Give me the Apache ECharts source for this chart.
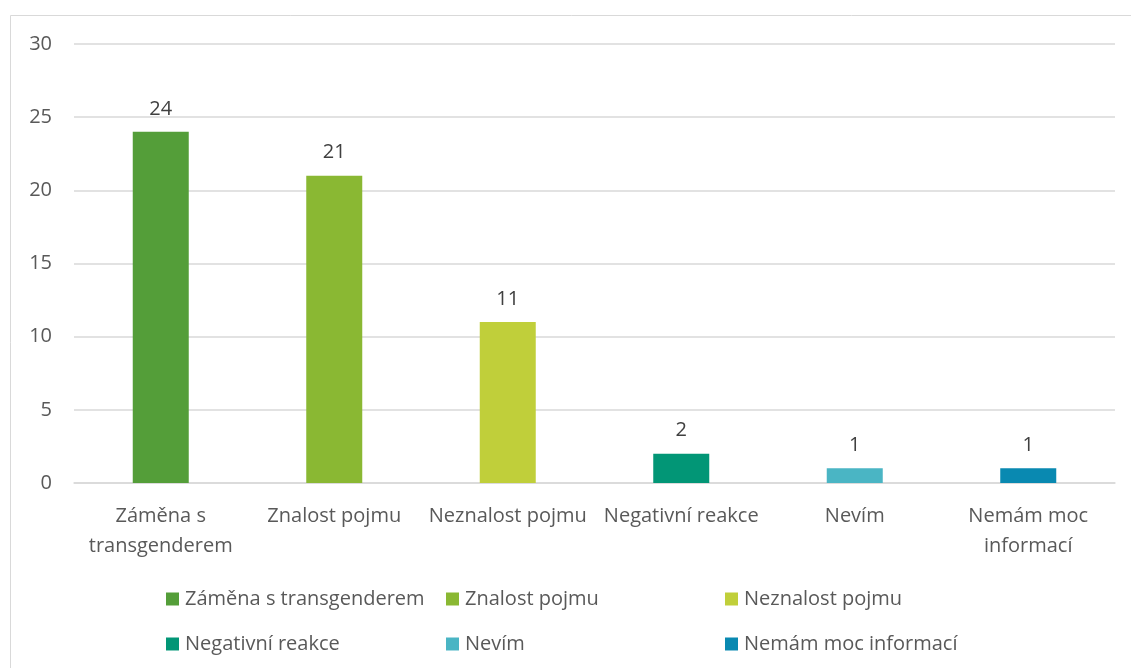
<!DOCTYPE html>
<html>
<head>
<meta charset="utf-8">
<script src="https://cdn.jsdelivr.net/npm/echarts@6/dist/echarts.min.js"></script>
<style>
  html, body { margin: 0; padding: 0; background: #fff; }
  #chart { width: 1131px; height: 668px; }
</style>
</head>
<body>
<div id="chart"></div>
<script>
// data
const categories = ["Záměna s transgenderem", "Znalost pojmu", "Neznalost pojmu", "Negativní reakce", "Nevím", "Nemám moc informací"];
const axisLabels = ["Záměna s\ntransgenderem", "Znalost pojmu", "Neznalost pojmu", "Negativní reakce", "Nevím", "Nemám moc\ninformací"];
const counts = [24, 21, 11, 2, 1, 1];
const colors = ["#549E39", "#8AB833", "#C0CF3A", "#029676", "#4AB5C4", "#0989B1"];

const font = "Open Sans";
const chart = echarts.init(document.getElementById("chart"));

// one series per category so every bar gets its own legend entry
let series = [];
for (let i = 0; i < categories.length; i++) {
    let data = categories.map((c, j) => (j === i ? counts[j] : "-"));
    series.push({
        name: categories[i],
        type: "bar",
        stack: "all",
        barWidth: 56,
        data: data,
        itemStyle: { color: colors[i] },
        label: {
            show: true,
            position: "top",
            distance: 13,
            color: "#404040",
            fontFamily: font,
            fontSize: 20
        }
    });
}

function legendBlock(left, names) {
    return {
        orient: "vertical",
        left: left,
        top: 584,
        itemWidth: 13,
        itemHeight: 13,
        itemGap: 25,
        icon: "rect",
        data: names,
        textStyle: { color: "#595959", fontFamily: font, fontSize: 20, padding: [0, 0, 0, 1] }
    };
}

chart.setOption({
    animation: false,
    graphic: [{
        type: "rect",
        shape: { x: 10.5, y: 15.5, width: 1300, height: 800 },
        style: { fill: null, stroke: "#d9d9d9", lineWidth: 1 },
        silent: true
    }],
    grid: { left: 74, right: 16, top: 44, bottom: 185 },
    legend: [
        legendBlock(161, [categories[0], categories[3]]),
        legendBlock(441, [categories[1], categories[4]]),
        legendBlock(720, [categories[2], categories[5]])
    ],
    xAxis: {
        type: "category",
        data: categories,
        axisLine: { lineStyle: { color: "#d9d9d9", width: 1.5 } },
        axisTick: { show: false },
        axisLabel: {
            interval: 0,
            color: "#595959",
            fontFamily: font,
            fontSize: 20,
            lineHeight: 30,
            margin: 18,
            formatter: (v, i) => axisLabels[i]
        }
    },
    yAxis: {
        type: "value",
        min: 0,
        max: 30,
        interval: 5,
        axisLine: { show: false },
        axisTick: { show: false },
        splitLine: { lineStyle: { color: "#d9d9d9", width: 1.5 } },
        axisLabel: { color: "#595959", fontFamily: font, fontSize: 20, margin: 22 }
    },
    series: series
});
</script>
</body>
</html>
